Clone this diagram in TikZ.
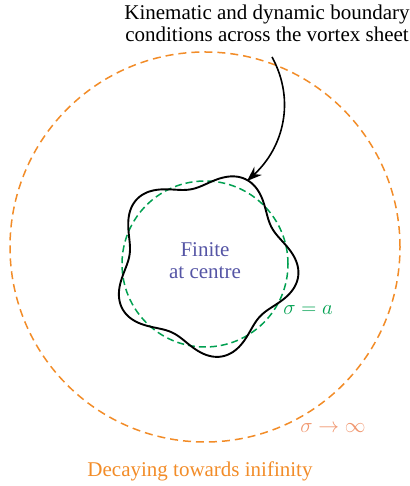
\documentclass[tikz,border=0pt]{standalone}
\usepackage{fontspec}
\setmainfont{Liberation Serif}
\usetikzlibrary{arrows.meta}
\definecolor{farorange}{RGB}{242,140,40}
\definecolor{sheetgreen}{RGB}{0,160,80}
\definecolor{coreblue}{RGB}{85,85,165}
\definecolor{limitsalmon}{RGB}{240,150,110}
\tikzset{
  farfield/.style={color=farorange, dash pattern=on 8pt off 5pt, line width=1.5pt},
  meanline/.style={color=sheetgreen, dash pattern=on 7pt off 4pt, line width=1.5pt},
  sheet/.style={line width=1.9pt},
  txt/.style={font=\fontsize{21}{22}\selectfont, align=center, inner sep=0.75pt}
}
\begin{document}
\begin{tikzpicture}[x=1pt,y=1pt]
\useasboundingbox (0,0) rectangle (409,486);
\coordinate (O) at (205,239);
\coordinate (C) at (205,222);
% far field and undisturbed sheet
\draw [farfield] (O) circle [radius=195];
\draw [meanline] (C) circle [radius=83];
% perturbed vortex sheet
\draw [sheet, shift={(C)}] plot [domain=0:360, samples=240, smooth cycle] (\x:{85+9*cos(5*(\x-64.5))});
% labels
\node [txt, text=coreblue] (core) at (205,225) {Finite\\at centre};
\node [txt, text=sheetgreen] (sigmaa) at (308,176) {$\sigma=a$};
\node [txt, text=limitsalmon] (sigmainf) at (333,58) {$\sigma\rightarrow\infty$};
\node [txt, text=farorange] (decay) at (200,15) {Decaying towards inifinity};
\node [txt, anchor=north] (bc) at (267,482) {Kinematic and dynamic boundary\\conditions across the vortex sheet};
\coordinate (tip) at (247,305);
\draw [line width=1.6pt, -{Stealth[length=15pt,width=11pt]}] (272,429) .. controls (296,385) and (283,338) .. (tip);
\end{tikzpicture}
\end{document}
